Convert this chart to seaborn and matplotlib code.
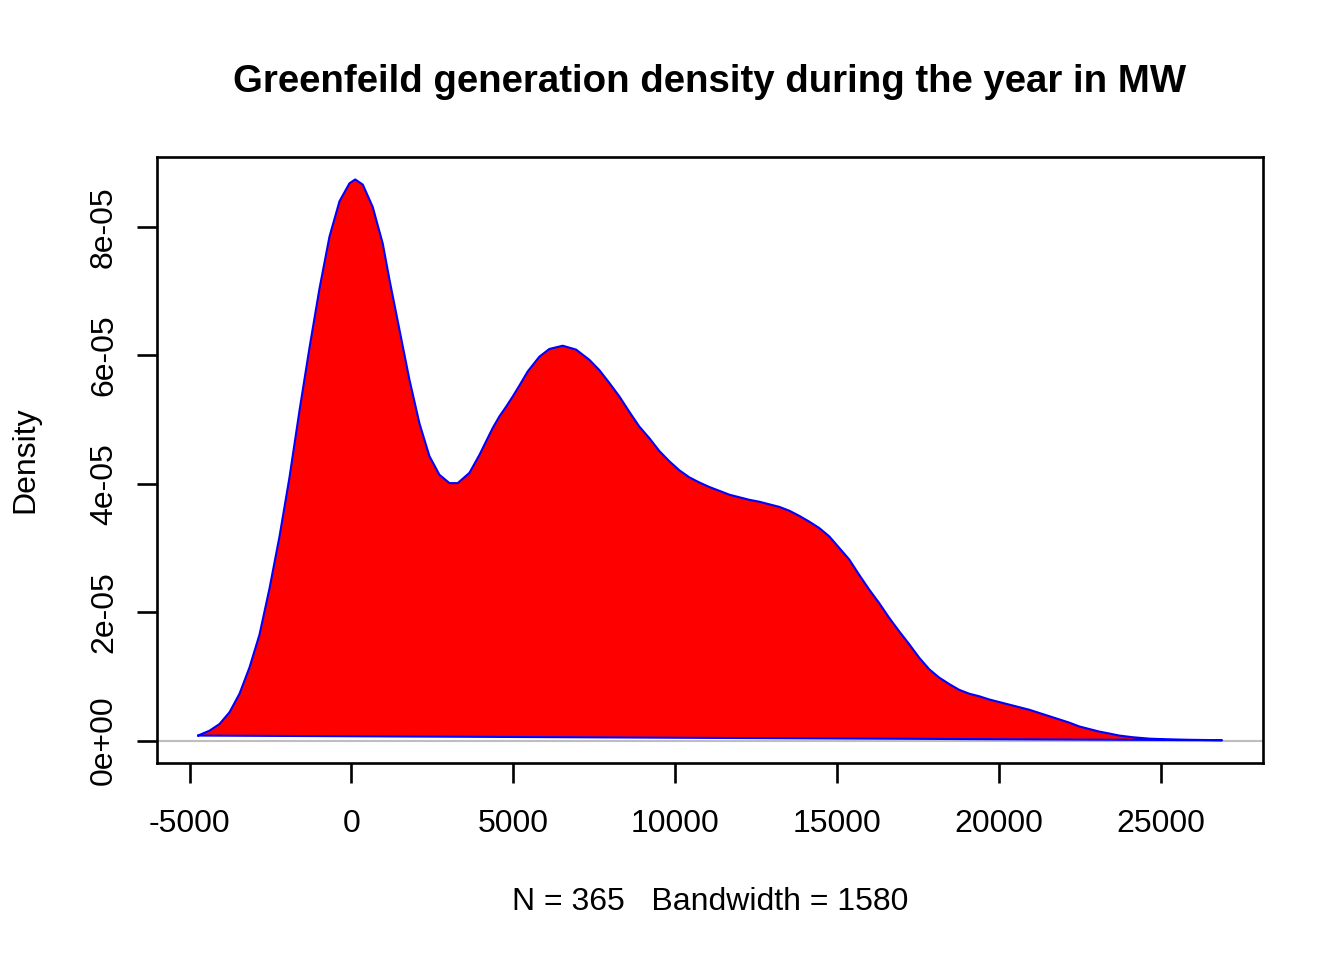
import numpy as np
import pandas as pd
import matplotlib
matplotlib.use('Agg')
import matplotlib.pyplot as plt
import seaborn as sns

sns.set_style('white')
plt.rcParams['font.family'] = ['Liberation Sans', 'DejaVu Sans']
plt.rcParams['text.color'] = 'black'

# density curve (MW, density in 1e-5)
gen_mw = [-4740, -4383, -4074, -3765, -3457, -3148, -2840, -2531, -2222, -1914,
          -1605, -1296, -988, -679, -370, -62, 114, 349, 657, 966,
          1173, 1481, 1790, 2099, 2407, 2716, 3025, 3281, 3642, 3951,
          4156, 4362, 4568, 4774, 4979, 5185, 5442, 5802, 6111, 6522,
          6934, 7346, 7654, 7963, 8272, 8580, 8889, 9198, 9506, 9815,
          10123, 10432, 10741, 11049, 11358, 11667, 11975, 12284, 12593, 12901,
          13210, 13519, 13827, 14136, 14444, 14753, 15062, 15370, 15679, 15988,
          16296, 16605, 16914, 17222, 17531, 17840, 18148, 18457, 18765, 19074,
          19383, 19691, 20000, 20309, 20617, 20926, 21235, 21543, 21852, 22160,
          22469, 22778, 23086, 23395, 23704, 24115, 24630, 25144, 25864, 26880]
dens_e5 = [0.078, 0.154, 0.258, 0.442, 0.73, 1.14, 1.65, 2.37, 3.18, 4.10,
           5.14, 6.12, 7.04, 7.85, 8.40, 8.68, 8.74, 8.66, 8.31, 7.74,
           7.18, 6.40, 5.62, 4.94, 4.43, 4.14, 4.01, 4.01, 4.17, 4.45,
           4.66, 4.87, 5.05, 5.20, 5.36, 5.53, 5.75, 5.98, 6.10, 6.15,
           6.09, 5.93, 5.77, 5.57, 5.36, 5.12, 4.89, 4.71, 4.51, 4.35,
           4.21, 4.10, 4.02, 3.95, 3.89, 3.83, 3.79, 3.75, 3.72, 3.68,
           3.64, 3.58, 3.50, 3.41, 3.31, 3.18, 3.00, 2.82, 2.58, 2.35,
           2.14, 1.91, 1.70, 1.50, 1.29, 1.11, 0.98, 0.88, 0.79, 0.73,
           0.69, 0.64, 0.60, 0.56, 0.52, 0.48, 0.43, 0.38, 0.33, 0.28,
           0.22, 0.18, 0.14, 0.11, 0.078, 0.052, 0.03, 0.02, 0.012, 0.005]

xticks = [-5000, 0, 5000, 10000, 15000, 20000, 25000]
yticks = [0, 2e-05, 4e-05, 6e-05, 8e-05]
ytick_labels = ['0e+00', '2e-05', '4e-05', '6e-05', '8e-05']

title = 'Greenfeild generation density during the year in MW'
xlabel = 'N = 365   Bandwidth = 1580'
ylabel = 'Density'

x = np.array(gen_mw, dtype=float)
y = np.array(dens_e5) * 1e-5
# closed polygon like R's polygon(d)
df = pd.DataFrame({'x': np.append(x, x[0]), 'y': np.append(y, y[0])})

fig = plt.figure(figsize=(13.44, 9.6), dpi=100)
ax = fig.add_axes([157 / 1344, 1 - 763 / 960, 1106 / 1344, 606 / 960])

lw = 1.9
ax.fill(df['x'], df['y'], facecolor='red', edgecolor='none', zorder=2)
sns.lineplot(data=df, x='x', y='y', sort=False, estimator=None, color='blue',
             linewidth=1.5, ax=ax, zorder=3)
ax.axhline(0, color='#BEBEBE', linewidth=lw * 0.8, zorder=1)

xr = x.max() - x.min()
ax.set_xlim(x.min() - 0.04 * xr, x.max() + 0.04 * xr)
yr = y.max()
ax.set_ylim(-0.04 * yr, yr * 1.04)

ax.set_xticks(xticks)
ax.set_xticklabels([str(t) for t in xticks])
ax.set_yticks(yticks)
ax.set_yticklabels(ytick_labels, rotation=90, va='center', ha='right')
ax.tick_params(axis='x', length=14.4, width=lw, pad=19, labelsize=23,
               direction='out', bottom=True, colors='black')
ax.tick_params(axis='y', length=14.4, width=lw, pad=13, labelsize=23,
               direction='out', left=True, colors='black')
for s in ax.spines.values():
    s.set_color('black')
    s.set_linewidth(lw)
ax.set_xlabel('')
ax.set_ylabel('')
ax.grid(False)

fig.text(710 / 1344, 1 - 82 / 960, title, ha='center', va='center',
         fontsize=27.6, fontweight='bold', color='black')
fig.text(710 / 1344, 1 - 902 / 960, xlabel, ha='center', va='center',
         fontsize=23, color='black')
fig.text(25 / 1344, 1 - 460 / 960, ylabel, ha='center', va='center',
         fontsize=23, rotation=90, color='black')

fig.savefig('out.png', dpi=100, facecolor='white')
